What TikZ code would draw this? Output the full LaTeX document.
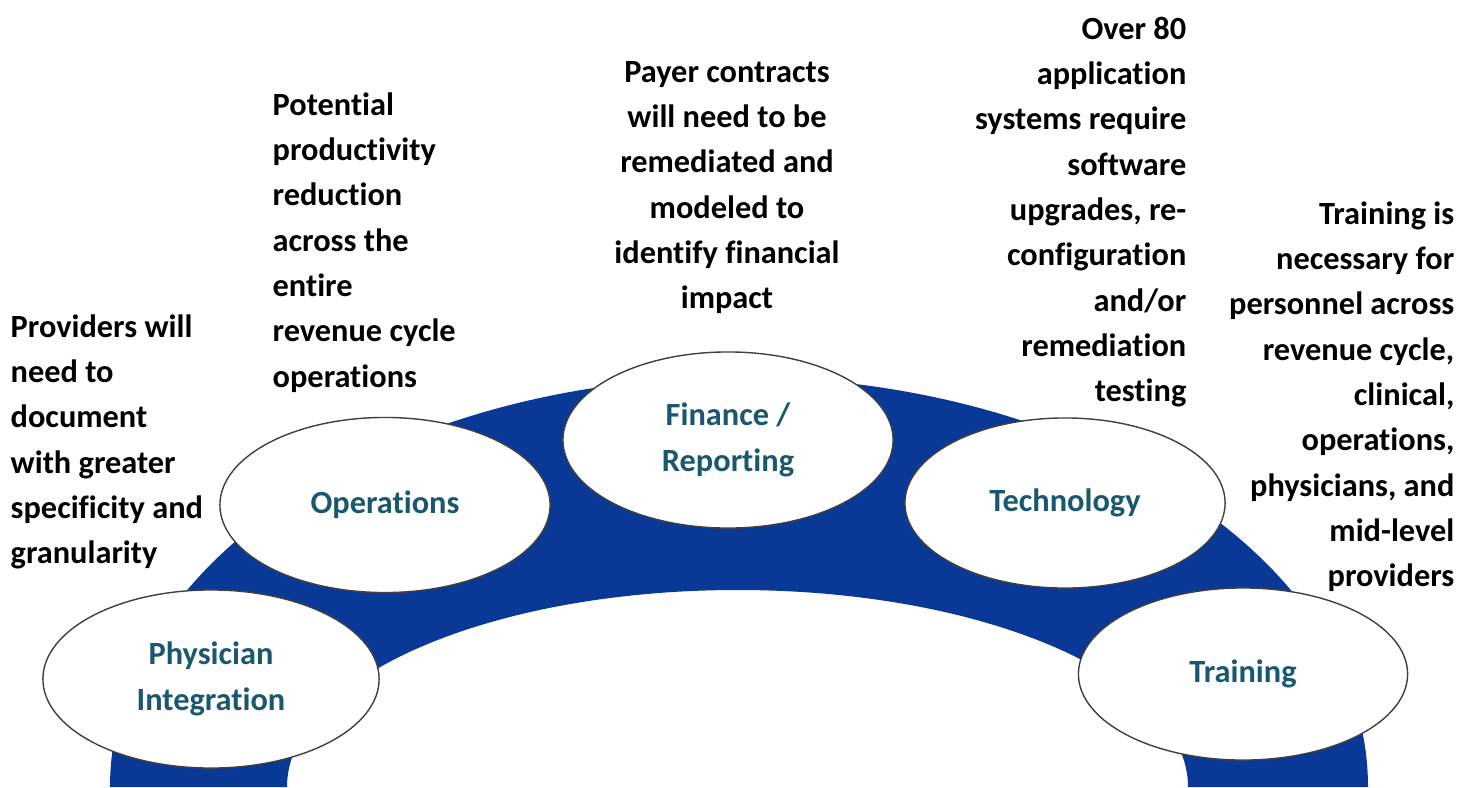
\documentclass[tikz,border=0pt]{standalone}
\usepackage{fontspec}
\setmainfont{Carlito}[Ligatures=NoCommon]
\usepackage{tikz}
\usetikzlibrary{shapes.geometric, positioning}

\definecolor{archblue}{RGB}{10,56,150}
\definecolor{labelteal}{RGB}{26,88,112}

\tikzset{
    topic/.style={ellipse, draw=black!75, line width=0.4pt, fill=white, inner sep=0pt,
        font=\bfseries\fontsize{9.2}{13}\selectfont, text=labelteal, align=center},
    note/.style={inner sep=0pt, font=\bfseries\fontsize{9.2}{12.9}\selectfont}
}

\begin{document}
\begin{tikzpicture}[x=0.01cm, y=0.01cm]
    \useasboundingbox (0,0) rectangle (1473,787);

    % the arch
    \fill[archblue] (110,0) arc[start angle=180, end angle=0, x radius=629, y radius=410]
        -- (1188,0) arc[start angle=0, end angle=180, x radius=450.5, y radius=197] -- cycle;

    % topics
    \node[topic, minimum width=3.36cm, minimum height=1.78cm] (physician) at (211,108) {Physician\\Integration};
    \node[topic, minimum width=3.30cm, minimum height=1.75cm] (operations) at (385,282) {Operations};
    \node[topic, minimum width=3.30cm, minimum height=1.76cm] (finance) at (728,347) {Finance /\\Reporting};
    \node[topic, minimum width=3.20cm, minimum height=1.70cm] (technology) at (1065,284) {Technology};
    \node[topic, minimum width=3.29cm, minimum height=1.72cm] (training) at (1243,113) {Training};

    % notes
    \node[note, anchor=base west] (providersnote) at (10,450) {
        \begin{tabular}[t]{@{}l@{}}
            Providers will \\
            need to \\
            document \\
            with greater \\
            specificity and \\
            granularity
        \end{tabular}
    };
    \node[note, anchor=base west] (productivitynote) at (272,672) {
        \begin{tabular}[t]{@{}l@{}}
            Potential \\
            productivity \\
            reduction \\
            across the \\
            entire \\
            revenue cycle \\
            operations
        \end{tabular}
    };
    \node[note, anchor=base] (payernote) at (727,705) {
        \begin{tabular}[t]{@{}c@{}}
            Payer contracts \\
            will need to be \\
            remediated and \\
            modeled to \\
            identify financial \\
            impact
        \end{tabular}
    };
    \node[note, anchor=base east] (systemsnote) at (1187,748) {
        \begin{tabular}[t]{@{}r@{}}
            Over 80 \\
            application \\
            systems require \\
            software \\
            upgrades, re- \\
            configuration \\
            and/or \\
            remediation \\
            testing
        \end{tabular}
    };
    \node[note, anchor=base east] (trainingnote) at (1455,563) {
        \begin{tabular}[t]{@{}r@{}}
            Training is \\
            necessary for \\
            personnel across \\
            revenue cycle, \\
            clinical, \\
            operations, \\
            physicians, and \\
            mid-level \\
            providers
        \end{tabular}
    };
\end{tikzpicture}
\end{document}
